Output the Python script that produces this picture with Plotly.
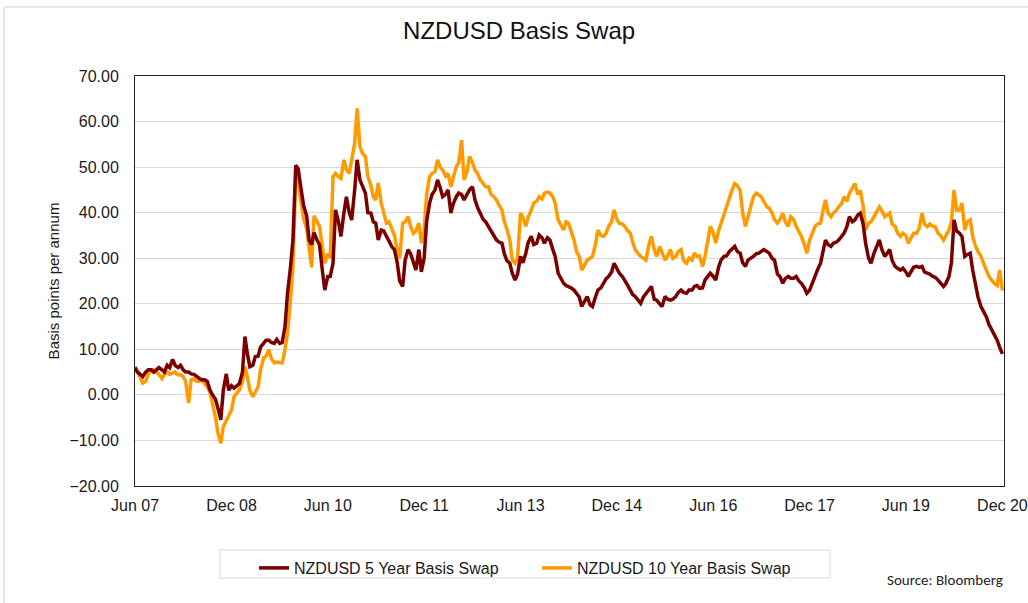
import pandas as pd
import plotly.graph_objects as go

# Semi-monthly readings, Jun 2007 -> Dec 2020
basis_5y = [
    # 2007 Jun..Dec
    6.0, 5.0, 4.5, 4.0, 5.0, 5.5, 5.5, 5.0, 5.5, 6.0, 5.5, 5.0, 6.5, 6.0,
    # 2008 Jan..Dec
    7.8, 6.5, 6.0, 6.5, 5.5, 5.0, 5.0, 4.6, 4.5, 4.0, 3.6, 3.3,
    3.3, 3.0, 1.0, 0.0, -1.0, -3.0, -5.5, 1.0, 4.6, 1.0, 2.0, 1.5,
    # 2009
    2.1, 2.5, 5.0, 12.8, 9.0, 6.2, 6.5, 8.4, 8.5, 10.5, 11.3, 12.0,
    12.0, 11.5, 11.3, 12.2, 11.3, 11.5, 15.0, 22.2, 28.0, 34.0, 50.4, 49.6,
    # 2010
    45.0, 41.5, 39.3, 34.0, 33.0, 35.6, 34.0, 33.0, 27.4, 23.0, 26.0, 26.0,
    28.9, 40.6, 38.0, 34.8, 40.0, 43.5, 40.0, 38.4, 45.0, 51.6, 47.2, 46.0,
    # 2011
    44.3, 40.0, 39.9, 38.0, 37.7, 34.0, 36.2, 36.0, 34.8, 34.0, 32.5, 31.9,
    29.0, 25.0, 23.8, 29.6, 31.9, 31.0, 29.0, 27.4, 31.9, 27.0, 30.0, 38.0,
    # 2012
    42.1, 44.0, 45.0, 47.2, 45.5, 43.5, 44.0, 45.0, 39.9, 42.0, 43.5, 44.3,
    44.0, 42.8, 44.0, 45.0, 45.7, 42.8, 41.0, 39.9, 38.5, 38.0, 37.0, 36.0,
    # 2013
    34.8, 34.0, 33.5, 33.3, 31.0, 29.5, 28.9, 26.7, 25.2, 26.5, 30.4, 29.0,
    31.1, 33.5, 34.8, 33.0, 33.3, 35.1, 34.5, 33.3, 34.5, 34.0, 32.0, 30.4,
    # 2014
    26.7, 25.5, 24.5, 24.0, 23.8, 23.5, 23.0, 22.3, 21.5, 19.4, 20.5, 21.6,
    19.8, 19.4, 21.5, 23.0, 23.5, 24.5, 25.5, 26.0, 27.0, 28.9, 27.5, 26.7,
    # 2015
    26.0, 25.2, 24.0, 23.0, 22.0, 21.6, 20.8, 20.1, 21.5, 22.3, 23.0, 23.8,
    21.0, 20.8, 20.0, 19.4, 21.6, 21.0, 20.8, 21.0, 21.6, 22.5, 23.0, 22.5,
    # 2016
    22.3, 23.0, 23.0, 23.8, 24.0, 23.4, 23.5, 25.2, 26.0, 26.7, 26.0, 25.2,
    28.0, 29.6, 30.4, 30.5, 31.5, 32.0, 32.6, 31.5, 31.1, 29.0, 28.2, 29.6,
    # 2017
    30.0, 30.4, 31.0, 31.1, 31.5, 31.9, 31.5, 31.1, 30.0, 29.6, 26.5, 26.0,
    24.5, 25.5, 26.0, 25.6, 25.6, 26.0, 25.0, 24.5, 23.5, 22.3, 23.0, 24.5,
    # 2018
    26.0, 27.5, 28.9, 32.0, 34.0, 33.0, 32.6, 33.3, 33.5, 34.0, 35.0, 35.5,
    37.0, 39.1, 38.0, 38.4, 39.5, 39.9, 37.5, 33.3, 30.0, 28.9, 31.0, 32.5,
    # 2019
    34.0, 32.0, 30.4, 31.1, 31.9, 29.5, 28.2, 27.8, 27.4, 27.8, 27.0, 26.0,
    27.0, 28.0, 28.2, 28.0, 28.2, 27.0, 26.7, 26.5, 26.0, 25.8, 25.2, 24.5,
    # 2020
    23.8, 24.5, 26.0, 29.0, 38.4, 36.0, 35.5, 34.8, 30.4, 30.8, 31.1, 27.4,
    24.0, 21.5, 19.4, 18.5, 17.1, 15.5, 14.2, 13.5, 12.0, 10.5, 9.0,
]

basis_10y = [
    # 2007 Jun..Dec
    6.2, 5.0, 4.0, 2.6, 3.0, 4.5, 5.5, 5.5, 5.0, 4.5, 3.6, 4.5, 5.0, 4.5,
    # 2008
    4.8, 5.0, 4.4, 4.4, 4.0, 3.0, -1.8, 3.3, 3.5, 3.0, 3.0, 3.3,
    2.5, 1.8, 0.5, -1.8, -5.0, -8.4, -10.6, -7.0, -5.5, -4.7, -3.3, -0.4,
    # 2009
    0.5, 1.1, 3.0, 6.2, 3.9, 1.0, -0.4, 0.5, 1.8, 5.5, 8.1, 8.5,
    9.9, 8.0, 7.0, 7.2, 7.0, 7.0, 10.0, 13.5, 20.8, 28.0, 48.0, 47.0,
    # 2010
    42.0, 38.6, 36.4, 32.0, 28.0, 39.3, 38.0, 37.0, 32.5, 28.9, 31.0, 30.0,
    47.9, 48.6, 47.9, 47.5, 51.6, 49.5, 48.6, 52.0, 55.2, 62.9, 54.5, 53.0,
    # 2011
    52.3, 47.9, 46.0, 43.5, 42.8, 46.5, 42.1, 40.0, 37.7, 38.0, 36.2, 35.0,
    31.9, 30.0, 37.7, 38.0, 39.1, 37.0, 35.5, 36.0, 37.7, 33.3, 36.0, 44.0,
    # 2012
    47.9, 48.6, 49.0, 51.6, 50.0, 49.4, 48.0, 48.6, 45.7, 48.0, 50.1, 51.0,
    55.9, 47.2, 49.0, 52.3, 51.0, 49.4, 48.5, 47.2, 46.5, 45.7, 45.7, 44.0,
    # 2013
    43.5, 42.8, 41.5, 40.6, 38.0, 36.5, 34.0, 29.6, 28.9, 30.0, 39.9, 39.0,
    37.0, 39.1, 40.5, 42.1, 42.5, 43.5, 43.0, 44.3, 44.5, 44.3, 43.5, 42.1,
    # 2014
    38.4, 37.5, 36.2, 38.0, 37.7, 36.0, 34.0, 31.5, 30.4, 27.4, 28.5, 29.6,
    30.0, 30.4, 33.0, 36.2, 35.0, 34.8, 35.5, 37.0, 38.0, 40.6, 38.5, 37.7,
    # 2015
    37.5, 37.0, 36.0, 35.5, 33.5, 31.9, 31.0, 30.4, 30.0, 29.6, 33.0, 34.8,
    32.0, 30.4, 32.6, 31.0, 29.6, 30.5, 31.9, 30.0, 30.4, 31.5, 31.9, 29.5,
    # 2016
    28.9, 30.0, 29.6, 31.1, 30.4, 30.5, 28.2, 30.4, 34.0, 37.0, 35.5, 33.3,
    36.0, 37.7, 40.0, 41.3, 43.5, 44.9, 46.4, 46.0, 44.9, 40.0, 37.0, 39.1,
    # 2017
    41.0, 43.5, 44.3, 44.0, 43.5, 42.5, 41.3, 41.0, 39.9, 38.5, 37.7, 38.5,
    39.9, 38.0, 37.0, 39.1, 38.5, 37.0, 36.0, 34.8, 33.0, 31.1, 34.0, 35.5,
    # 2018
    37.0, 37.5, 37.7, 40.5, 42.8, 40.0, 39.1, 39.9, 40.5, 41.3, 42.0, 43.5,
    42.5, 44.3, 45.5, 46.4, 44.0, 44.9, 41.5, 36.2, 37.7, 38.0, 39.1, 40.0,
    # 2019
    41.3, 40.5, 39.1, 39.5, 39.9, 37.5, 37.0, 35.5, 34.8, 35.5, 35.0, 33.3,
    34.5, 35.5, 35.5, 36.5, 39.9, 37.5, 36.9, 37.5, 37.0, 36.9, 35.5, 35.0,
    # 2020
    34.0, 35.0, 36.2, 38.0, 45.0, 40.6, 40.6, 42.1, 36.2, 38.0, 38.4, 34.8,
    32.6, 31.5, 30.4, 29.0, 27.4, 26.0, 25.2, 24.5, 24.0, 27.4, 22.9,
]

tick_dates = ["2007-06-01", "2008-12-01", "2010-06-01", "2011-12-01", "2013-06-01",
              "2014-12-01", "2016-06-01", "2017-12-01", "2019-06-01", "2020-12-01"]
tick_labels = ["Jun 07", "Dec 08", "Jun 10", "Dec 11", "Jun 13",
               "Dec 14", "Jun 16", "Dec 17", "Jun 19", "Dec 20"]

dates_5y = pd.date_range("2007-06-01", periods=len(basis_5y), freq="SMS")
dates_10y = pd.date_range("2007-06-01", periods=len(basis_10y), freq="SMS")

FONT = "Arial, Liberation Sans, sans-serif"
TXT = "#1a1a1a"

L, R, T, B = 135, 1004, 76, 486          # plot-area box in pixels
PW, PH = R - L, B - T

def px(x):
    return (x - L) / PW

def py(y):
    return (B - y) / PH

fig = go.Figure()
fig.add_trace(go.Scatter(
    x=dates_10y, y=basis_10y, mode="lines", name="NZDUSD 10 Year Basis Swap",
    line=dict(color="#FF9A00", width=3.5), legendrank=2,
))
fig.add_trace(go.Scatter(
    x=dates_5y, y=basis_5y, mode="lines", name="NZDUSD 5 Year Basis Swap",
    line=dict(color="#7A0000", width=3.5), legendrank=1,
))

fig.update_layout(
    width=1028, height=603,
    margin=dict(l=L, r=1028 - R, t=T, b=603 - B, autoexpand=False),
    paper_bgcolor="white", plot_bgcolor="white",
    font=dict(family=FONT, size=16, color=TXT),
    title=dict(text="NZDUSD Basis Swap", x=0.505, xanchor="center",
               y=1 - 31 / 603, yanchor="middle", yref="container",
               font=dict(family=FONT, size=24, color="#111")),
    showlegend=True,
    legend=dict(orientation="h", x=px(254), xanchor="left",
                y=py(551), yanchor="top",
                borderwidth=0, bgcolor="rgba(0,0,0,0)",
                font=dict(family=FONT, size=16, color=TXT),
                entrywidth=238, entrywidthmode="pixels",
                itemwidth=30, tracegroupgap=0),
    xaxis=dict(
        type="date", range=["2007-06-01", "2020-12-10"],
        tickvals=tick_dates, ticktext=tick_labels,
        showgrid=False, zeroline=False, automargin=False,
        showline=True, linecolor="#222", linewidth=1, mirror=True,
        ticks="", ticklabelstandoff=5, ticklabeloverflow="allow",
        tickfont=dict(family=FONT, size=16, color=TXT),
    ),
    yaxis=dict(
        range=[-20, 70], dtick=10, tick0=0, tickformat=".2f",
        showgrid=True, gridcolor="#d9d9d9", gridwidth=1, zeroline=False,
        automargin=False,
        showline=True, linecolor="#222", linewidth=1, mirror=True,
        ticks="", ticklabelstandoff=12,
        tickfont=dict(family=FONT, size=16, color=TXT),
        title=dict(text="Basis points per annum", standoff=6,
                   font=dict(family=FONT, size=15, color=TXT)),
    ),
    shapes=[
        dict(type="rect", xref="paper", yref="paper",
             x0=px(4), x1=px(1040), y0=py(620), y1=py(7),
             line=dict(color="#d0d0d0", width=1), fillcolor="rgba(0,0,0,0)",
             layer="below"),
        dict(type="rect", xref="paper", yref="paper",
             x0=px(220), x1=px(830), y0=py(578), y1=py(550),
             line=dict(color="#d9d9d9", width=1), fillcolor="rgba(0,0,0,0)",
             layer="below"),
    ],
    annotations=[dict(text="Source: Bloomberg", xref="paper", yref="paper",
                      x=px(1005), xanchor="right",
                      y=py(580), yanchor="middle", showarrow=False,
                      font=dict(family="Calibri, Carlito, Liberation Sans, sans-serif",
                                size=15, color="#222"))],
)

fig.write_html("out.html")
